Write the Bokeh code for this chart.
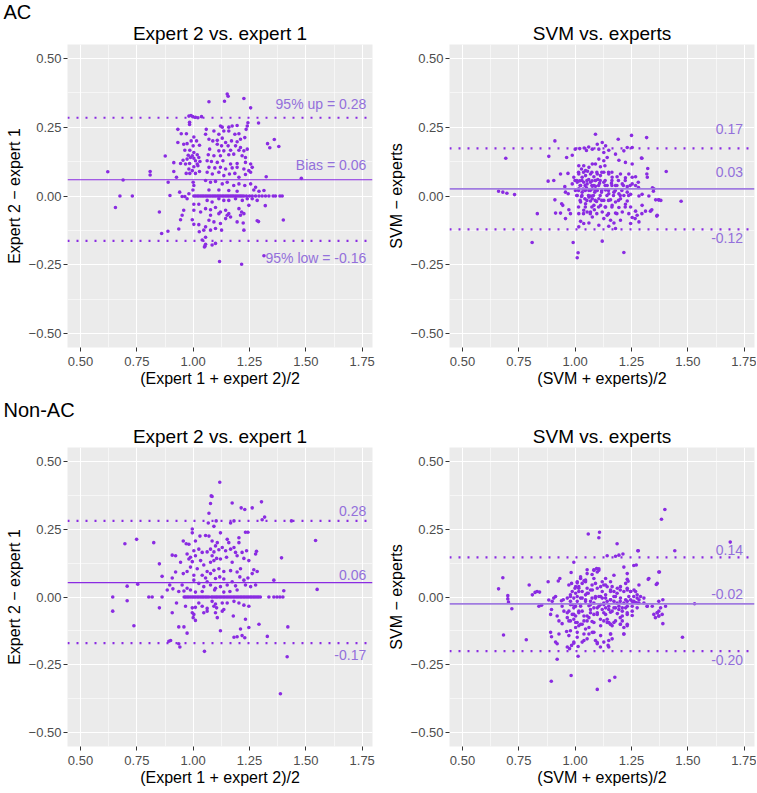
from bokeh.plotting import figure
from bokeh.models import (Span, Title, FixedTicker, CustomJSTickFormatter, Range1d,
                          ColumnDataSource)
from bokeh.layouts import column, row
from bokeh.core.properties import value
from bokeh.embed import file_html
from bokeh.resources import INLINE

# ---------------- data ----------------
group_labels = ["AC", "Non-AC"]
panel_titles = ["Expert 2 vs. expert 1", "SVM vs. experts"]
x_labels = ["(Expert 1 + expert 2)/2", "(SVM + experts)/2"]
y_labels = ["Expert 2 \u2212 expert 1", "SVM \u2212 experts"]
x_ticks = [0.50, 0.75, 1.00, 1.25, 1.50, 1.75]
y_ticks = [-0.50, -0.25, 0.00, 0.25, 0.50]

# (upper limit, bias, lower limit) per panel
ac_expert_lines = [0.284, 0.059, -0.163]
ac_svm_lines = [0.173, 0.026, -0.121]
nonac_expert_lines = [0.280, 0.053, -0.170]
nonac_svm_lines = [0.146, -0.025, -0.199]

ac_expert_texts = ["95% up = 0.28", "Bias = 0.06", "95% low = -0.16"]
ac_svm_texts = ["0.17", "0.03", "-0.12"]
nonac_expert_texts = ["0.28", "0.06", "-0.17"]
nonac_svm_texts = ["0.14", "-0.02", "-0.20"]

# (mean, difference) pairs
ac_expert_pts = [
    (0.621, 0.088), (0.655, -0.042), (0.689, 0.058), (0.675, 0.000), (0.730, 0.000),
    (0.809, 0.089), (0.809, 0.076), (0.850, -0.058), (0.860, -0.136), (0.876, 0.145),
    (0.888, -0.128), (0.889, 0.050), (0.897, 0.002), (0.914, 0.089), (0.914, 0.121),
    (0.926, 0.068), (0.932, 0.242), (0.932, 0.194), (0.936, -0.120), (0.940, 0.014),
    (0.944, 0.118), (0.944, -0.086), (0.947, 0.226), (0.951, -0.002), (0.951, -0.070),
    (0.955, 0.130), (0.958, 0.188), (0.958, -0.052), (0.963, 0.166), (0.963, -0.002),
    (0.966, 0.116), (0.969, 0.082), (0.970, 0.226), (0.973, 0.190), (0.973, 0.134),
    (0.973, -0.010), (0.978, 0.148), (0.981, 0.290), (0.981, 0.098), (0.981, 0.008),
    (0.984, 0.268), (0.984, 0.260), (0.984, 0.118), (0.985, 0.166), (0.985, 0.082),
    (0.988, 0.140), (0.990, 0.292), (0.991, 0.200), (0.996, 0.146), (0.996, 0.092),
    (0.996, -0.086), (0.998, 0.288), (0.999, 0.022), (1.000, 0.182), (1.000, 0.050),
    (1.003, 0.214), (1.003, 0.158), (1.003, 0.137), (1.003, 0.106), (1.003, 0.038),
    (1.003, 0.000), (1.003, -0.030), (1.003, -0.052), (1.003, -0.103), (1.010, 0.286),
    (1.010, 0.128), (1.010, 0.082), (1.015, 0.200), (1.018, 0.150), (1.018, 0.116),
    (1.018, 0.000), (1.021, 0.284), (1.021, 0.110), (1.025, 0.140), (1.025, -0.030),
    (1.025, -0.104), (1.027, -0.130), (1.028, 0.184), (1.028, 0.089), (1.030, 0.125),
    (1.033, 0.000), (1.033, -0.058), (1.037, 0.288), (1.040, -0.160), (1.047, -0.124),
    (1.052, -0.182), (1.055, -0.150), (1.055, -0.175), (1.050, -0.185),
    (1.151, 0.370), (1.155, 0.362), (1.139, 0.344), (1.225, 0.354), (1.070, 0.342), (1.255, 0.320),
    (1.243, 0.266), (1.240, 0.254), (1.235, 0.242),
    (1.121, 0.254), (1.129, 0.250), (1.158, 0.250), (1.173, 0.254), (1.195, 0.256),
    (1.092, 0.236), (1.114, 0.224), (1.136, 0.236), (1.158, 0.236), (1.185, 0.224),
    (1.203, 0.226), (1.058, 0.242), (1.055, 0.224),
    (1.070, 0.206), (1.087, 0.200), (1.107, 0.202), (1.129, 0.210), (1.144, 0.194),
    (1.170, 0.200), (1.195, 0.197), (1.210, 0.206), (1.229, 0.212),
    (1.107, 0.188), (1.126, 0.182), (1.155, 0.182), (1.188, 0.182), (1.210, 0.176),
    (1.073, 0.170), (1.114, 0.164), (1.136, 0.164), (1.166, 0.166), (1.203, 0.166),
    (1.225, 0.164), (1.240, 0.170),
    (1.067, 0.150), (1.092, 0.146), (1.121, 0.146), (1.158, 0.150), (1.180, 0.152),
    (1.217, 0.146), (1.232, 0.140),
    (1.062, 0.128), (1.081, 0.125), (1.107, 0.122), (1.132, 0.128), (1.166, 0.116),
    (1.195, 0.118), (1.232, 0.122), (1.255, 0.116),
    (1.070, 0.104), (1.096, 0.102), (1.121, 0.104), (1.144, 0.098), (1.173, 0.102),
    (1.195, 0.104), (1.225, 0.098), (1.247, 0.092), (1.262, 0.104),
    (1.062, 0.086), (1.085, 0.080), (1.114, 0.086), (1.136, 0.074), (1.161, 0.080),
    (1.185, 0.082), (1.203, 0.068), (1.232, 0.078), (1.255, 0.086), (1.324, 0.070),
    (1.055, 0.056), (1.077, 0.050), (1.099, 0.053), (1.129, 0.044), (1.151, 0.050),
    (1.180, 0.038), (1.203, 0.044), (1.229, 0.038), (1.255, 0.044), (1.277, 0.032),
    (1.070, 0.022), (1.114, 0.022), (1.158, 0.020), (1.195, 0.017), (1.269, 0.022),
    (1.292, 0.017), (1.314, 0.020),
    (1.010, 0.000), (1.025, 0.000), (1.040, 0.000), (1.047, 0.000), (1.055, 0.000),
    (1.062, 0.000), (1.070, 0.000), (1.077, 0.000), (1.085, 0.000), (1.092, 0.000),
    (1.099, 0.000), (1.107, 0.000), (1.114, 0.000), (1.121, 0.000), (1.129, 0.000),
    (1.136, 0.000), (1.144, 0.000), (1.151, 0.000), (1.158, 0.000), (1.166, 0.000),
    (1.173, 0.000), (1.180, 0.000), (1.188, 0.000), (1.195, 0.000), (1.203, 0.000),
    (1.210, 0.000), (1.217, 0.000), (1.225, 0.000), (1.236, 0.000), (1.250, 0.000),
    (1.262, 0.000), (1.277, 0.000), (1.292, 0.000), (1.306, 0.000), (1.321, 0.000),
    (1.336, 0.000), (1.355, 0.000), (1.365, 0.000), (1.385, 0.000), (1.395, 0.000),
    (1.062, -0.016), (1.084, -0.022), (1.114, -0.010), (1.136, -0.016), (1.158, -0.016),
    (1.188, -0.010), (1.218, -0.016), (1.240, -0.010), (1.262, -0.010), (1.284, -0.016),
    (1.055, -0.046), (1.077, -0.050), (1.099, -0.042), (1.121, -0.058), (1.144, -0.052),
    (1.158, -0.064), (1.203, -0.046), (1.215, -0.058), (1.247, -0.034),
    (1.077, -0.070), (1.114, -0.064), (1.151, -0.070), (1.166, -0.076), (1.210, -0.070),
    (1.225, -0.064),
    (1.070, -0.088), (1.092, -0.094), (1.121, -0.100), (1.144, -0.082), (1.195, -0.094),
    (1.222, -0.098), (1.284, -0.090),
    (1.055, -0.112), (1.077, -0.124), (1.099, -0.118), (1.126, -0.124), (1.225, -0.124),
    (1.084, -0.178), (1.099, -0.172), (1.117, -0.238), (1.215, -0.248),
    (1.290, 0.265), (1.330, 0.190), (1.340, 0.175), (1.360, 0.205), (1.380, 0.180),
    (1.314, -0.217), (1.320, -0.035), (1.290, -0.093), (1.400, -0.087), (1.480, 0.064),
]

ac_svm_pts = [
    (0.660, 0.017), (0.679, 0.014), (0.697, 0.010), (0.692, 0.137), (0.731, 0.005),
    (1.404, 0.089), (1.470, -0.019), (1.380, -0.016), (1.370, -0.014), (1.362, -0.073),
    (1.340, -0.050), (1.343, 0.030), (1.347, 0.017), (1.322, 0.100), (1.318, 0.080),
    (1.296, 0.137), (1.281, 0.031), (1.296, -0.064), (1.266, -0.082),
    (0.910, 0.200), (0.883, 0.144), (0.962, 0.140), (0.987, 0.148), (0.935, 0.080),
    (0.968, 0.082), (0.880, 0.054), (0.905, 0.056), (0.957, 0.014), (0.969, 0.008),
    (0.954, 0.034), (0.987, 0.044), (0.994, 0.068), (0.999, 0.056),
    (1.016, 0.110), (1.028, 0.098), (1.038, 0.110), (1.046, 0.092), (1.061, 0.104),
    (1.076, 0.116), (1.016, 0.080), (1.031, 0.068), (1.046, 0.074), (1.068, 0.080),
    (1.083, 0.070), (1.009, 0.050), (1.024, 0.038), (1.038, 0.050), (1.053, 0.044),
    (1.068, 0.050), (1.083, 0.038), (1.001, 0.020), (1.016, 0.026), (1.031, 0.014),
    (1.046, 0.022), (1.061, 0.020), (1.076, 0.026), (1.087, 0.014), (1.009, 0.002),
    (1.028, -0.002), (1.043, -0.010), (1.061, -0.004), (1.076, -0.010),
    (1.024, -0.022), (1.046, -0.028), (1.068, -0.018), (1.083, -0.034),
    (0.910, -0.014), (0.940, -0.028), (0.945, -0.034), (0.972, -0.050), (0.979, -0.064),
    (0.935, -0.062), (0.913, -0.062), (0.832, -0.064),
    (1.016, -0.064), (1.038, -0.052), (1.053, -0.058), (1.068, -0.058), (1.076, -0.076),
    (0.957, -0.082), (1.024, -0.092), (1.038, -0.100), (1.016, -0.112), (1.061, -0.098),
    (0.809, -0.169), (0.991, -0.169), (1.013, -0.206), (1.009, -0.224),
    (1.020, 0.172), (1.040, 0.174), (1.060, 0.178), (1.076, 0.170), (1.000, 0.170),
    (1.050, 0.165), (1.050, 0.030), (1.060, 0.060), (1.035, 0.025), (1.070, 0.000),
    (1.090, 0.035), (1.095, -0.020), (1.045, -0.040), (1.055, 0.090), (1.020, 0.055),
    (1.075, 0.055), (1.100, 0.060), (1.085, -0.050),
    (1.191, 0.206), (1.250, 0.220), (1.317, 0.212), (1.090, 0.224),
    (1.098, 0.188), (1.120, 0.194), (1.135, 0.182), (1.105, 0.170), (1.127, 0.158),
    (1.149, 0.166), (1.179, 0.152), (1.216, 0.164), (1.231, 0.176), (1.253, 0.176),
    (1.294, 0.138), (1.105, 0.134), (1.127, 0.128), (1.142, 0.140), (1.090, 0.116),
    (1.112, 0.106), (1.132, 0.110), (1.194, 0.130), (1.223, 0.122), (1.253, 0.116),
    (1.098, 0.080), (1.112, 0.074), (1.127, 0.086), (1.149, 0.080), (1.164, 0.068),
    (1.186, 0.070), (1.201, 0.080), (1.223, 0.066), (1.238, 0.080), (1.253, 0.068),
    (1.268, 0.070), (1.280, 0.050), (1.320, 0.068),
    (1.090, 0.056), (1.108, 0.046), (1.127, 0.050), (1.142, 0.038), (1.161, 0.046),
    (1.179, 0.038), (1.209, 0.044), (1.231, 0.034), (1.253, 0.044), (1.268, 0.038),
    (1.098, 0.020), (1.117, 0.014), (1.135, 0.022), (1.149, 0.008), (1.172, 0.014),
    (1.194, 0.008), (1.216, 0.002), (1.231, 0.014), (1.246, 0.006),
    (1.105, -0.010), (1.127, -0.016), (1.157, -0.014), (1.179, -0.022), (1.201, -0.010),
    (1.231, -0.018), (1.283, 0.000), (1.297, 0.006), (1.327, 0.000), (1.349, 0.026),
    (1.113, -0.034), (1.135, -0.040), (1.164, -0.034), (1.194, -0.042), (1.223, -0.030),
    (1.246, -0.040), (1.297, -0.034), (1.312, -0.055), (1.357, -0.014), (1.371, -0.014),
    (1.120, -0.058), (1.142, -0.070), (1.179, -0.062), (1.209, -0.058), (1.238, -0.064),
    (1.268, -0.055),
    (1.127, -0.082), (1.157, -0.088), (1.172, -0.098), (1.201, -0.088), (1.253, -0.078),
    (1.275, -0.070), (1.334, -0.055), (1.364, -0.070),
    (1.105, -0.106), (1.149, -0.110), (1.179, -0.118), (1.246, -0.100), (1.283, -0.094),
    (1.120, -0.164), (1.216, -0.205),
    (1.015, 0.086), (1.037, 0.086), (1.074, 0.086), (1.096, 0.086), (1.118, 0.086),
    (1.148, 0.086), (1.163, 0.086),
    (1.007, 0.056), (1.030, 0.056), (1.052, 0.056), (1.089, 0.056), (1.111, 0.056),
    (1.133, 0.056), (1.163, 0.056), (1.192, 0.056), (1.222, 0.056),
    (1.022, 0.038), (1.044, 0.038), (1.074, 0.038), (1.104, 0.038), (1.133, 0.038),
    (1.163, 0.038), (1.185, 0.038), (1.214, 0.038), (1.244, 0.038),
    (1.015, 0.020), (1.044, 0.020), (1.067, 0.020), (1.089, 0.020), (1.118, 0.020),
    (1.148, 0.020), (1.178, 0.020), (1.207, 0.020),
    (1.007, 0.002), (1.030, 0.002), (1.059, 0.002), (1.081, 0.002), (1.111, 0.002),
    (1.141, 0.002), (1.170, 0.002), (1.200, 0.002), (1.237, 0.002),
    (1.022, -0.016), (1.052, -0.016), (1.089, -0.016), (1.118, -0.016), (1.148, -0.016),
    (1.192, -0.016),
    (1.015, -0.040), (1.074, -0.040), (1.104, -0.040), (1.133, -0.040), (1.163, -0.040),
    (1.222, -0.040),
    (1.037, -0.064), (1.067, -0.064), (1.096, -0.064), (1.148, -0.064), (1.185, -0.064),
]

nonac_expert_pts = [
    (0.643, 0.000), (0.643, -0.052), (0.697, 0.196), (0.707, 0.040), (0.707, -0.014),
    (0.737, -0.106), (0.749, 0.212), (0.754, 0.047), (1.387, -0.356), (1.417, -0.220),
    (1.420, -0.110), (1.402, 0.023), (1.392, 0.144), (1.436, 0.280), (1.543, 0.208),
    (1.550, 0.028),
    (1.080, 0.372), (1.077, 0.344), (1.070, 0.308), (1.067, 0.272),
    (0.996, 0.250), (0.996, 0.236), (0.825, 0.200),
    (0.956, 0.206), (0.969, 0.196), (0.981, 0.194), (1.010, 0.206), (1.030, 0.224),
    (1.055, 0.226), (1.070, 0.224),
    (1.003, 0.170), (1.025, 0.176), (1.040, 0.164), (1.062, 0.166), (0.973, 0.158),
    (0.988, 0.146), (1.010, 0.152), (0.907, 0.154), (0.922, 0.152),
    (0.944, 0.128), (0.981, 0.140), (0.996, 0.130), (1.033, 0.134), (1.047, 0.118),
    (1.018, 0.104), (1.062, 0.094), (0.988, 0.110), (0.973, 0.094), (0.850, 0.122),
    (0.922, 0.092), (0.956, 0.086), (1.003, 0.080), (1.040, 0.080), (1.055, 0.070),
    (0.862, 0.076), (0.907, 0.070),
    (0.896, 0.044), (0.885, 0.026), (0.910, 0.030), (0.951, 0.044), (0.973, 0.032),
    (1.003, 0.062), (1.025, 0.050), (1.062, 0.056), (1.047, 0.038),
    (0.936, 0.020), (0.959, 0.022), (0.988, 0.026), (1.010, 0.018), (1.040, 0.020),
    (0.803, 0.000), (0.818, 0.000), (0.862, 0.000), (0.960, 0.000), (0.966, 0.000),
    (0.973, 0.000), (0.980, 0.000), (0.988, 0.000), (0.996, 0.000), (1.003, 0.000),
    (1.010, 0.000), (1.018, 0.000), (1.025, 0.000), (1.033, 0.000), (1.040, 0.000),
    (1.047, 0.000), (1.055, 0.000), (1.062, 0.000), (1.070, 0.000),
    (0.926, -0.022), (0.966, -0.034), (0.996, -0.040), (1.010, -0.038), (1.025, -0.022),
    (1.040, -0.034), (1.062, -0.042), (0.850, -0.040), (0.907, -0.058),
    (0.996, -0.058), (1.003, -0.064), (1.000, -0.076), (1.010, -0.086), (1.047, -0.058),
    (1.062, -0.052), (0.936, -0.110), (0.959, -0.110), (0.973, -0.133),
    (0.892, -0.163), (0.900, -0.160), (0.936, -0.172), (0.941, -0.184), (1.050, -0.200),
    (1.118, 0.422), (1.084, 0.370), (1.173, 0.346), (1.213, 0.328), (1.229, 0.322),
    (1.262, 0.328), (1.303, 0.350), (1.317, 0.294), (1.306, 0.284),
    (1.166, 0.272), (1.181, 0.280), (1.102, 0.280), (1.092, 0.260),
    (1.121, 0.236), (1.232, 0.238), (1.243, 0.238),
    (1.084, 0.206), (1.107, 0.200), (1.099, 0.188), (1.151, 0.212), (1.158, 0.200),
    (1.181, 0.182), (1.203, 0.218), (1.203, 0.200), (1.217, 0.164), (1.237, 0.170),
    (1.277, 0.158), (1.281, 0.168),
    (1.077, 0.176), (1.092, 0.166), (1.114, 0.174), (1.129, 0.182), (1.144, 0.170),
    (1.166, 0.176), (1.188, 0.164),
    (1.084, 0.152), (1.104, 0.142), (1.092, 0.134), (1.077, 0.128), (1.121, 0.140),
    (1.148, 0.146), (1.173, 0.128), (1.195, 0.152), (1.225, 0.142), (1.247, 0.134),
    (1.092, 0.098), (1.114, 0.104), (1.136, 0.094), (1.166, 0.097), (1.195, 0.092),
    (1.210, 0.104), (1.269, 0.100), (1.284, 0.094),
    (1.077, 0.086), (1.099, 0.068), (1.118, 0.074), (1.136, 0.066), (1.207, 0.074),
    (1.225, 0.062), (1.243, 0.070), (1.262, 0.086), (1.358, 0.062),
    (1.077, 0.044), (1.099, 0.032), (1.121, 0.038), (1.151, 0.044), (1.173, 0.056),
    (1.188, 0.041), (1.195, 0.026), (1.232, 0.044), (1.255, 0.038), (1.277, 0.044),
    (1.095, 0.026), (1.136, 0.018), (1.163, 0.020),
    (1.081, 0.000), (1.088, 0.000), (1.096, 0.000), (1.103, 0.000), (1.110, 0.000),
    (1.118, 0.000), (1.125, 0.000), (1.133, 0.000), (1.140, 0.000), (1.148, 0.000),
    (1.155, 0.000), (1.163, 0.000), (1.170, 0.000), (1.178, 0.000), (1.185, 0.000),
    (1.193, 0.000), (1.200, 0.000), (1.208, 0.000), (1.215, 0.000), (1.223, 0.000),
    (1.230, 0.000), (1.238, 0.000), (1.245, 0.000), (1.253, 0.000), (1.260, 0.000),
    (1.268, 0.000), (1.275, 0.000), (1.283, 0.000), (1.290, 0.000), (1.298, 0.000),
    (1.336, 0.000), (1.358, 0.000), (1.372, 0.000), (1.385, 0.000), (1.398, 0.000),
    (1.084, -0.016), (1.099, -0.026), (1.092, -0.034), (1.104, -0.040), (1.129, -0.022),
    (1.151, -0.022), (1.181, -0.016), (1.203, -0.022), (1.225, -0.030), (1.247, -0.034),
    (1.099, -0.058), (1.107, -0.076), (1.129, -0.052), (1.136, -0.046), (1.178, -0.070),
    (1.232, -0.082),
    (1.210, -0.118), (1.247, -0.112), (1.292, -0.100), (1.121, -0.124),
    (1.181, -0.148), (1.195, -0.146), (1.217, -0.142), (1.229, -0.150), (1.329, -0.145),
]

nonac_svm_pts = [
    (0.660, 0.030), (0.679, 0.071), (0.682, -0.140), (0.701, 0.005), (0.701, -0.007),
    (0.704, -0.019), (0.719, -0.043), (0.783, -0.157), (0.796, 0.044), (0.810, 0.008),
    (0.822, 0.017), (1.476, -0.148), (1.530, -0.025), (1.688, 0.202),
    (1.058, 0.232), (1.108, 0.238), (1.105, 0.218), (0.994, 0.128), (0.982, 0.090),
    (0.880, 0.056), (0.925, 0.059), (0.932, 0.068), (0.831, 0.020), (0.842, 0.018),
    (0.851, -0.030), (0.839, -0.034),
    (0.883, -0.011), (0.898, -0.016), (0.905, -0.004), (0.913, 0.002), (0.939, -0.014),
    (0.942, -0.034), (0.895, -0.046), (0.891, -0.064), (0.920, -0.070), (0.928, -0.088),
    (0.950, -0.052), (0.965, -0.076), (0.942, -0.098),
    (0.891, -0.130), (0.895, -0.146), (0.913, -0.166), (0.928, -0.136), (0.920, -0.172),
    (0.920, -0.229), (0.962, -0.127), (0.972, -0.142), (0.965, -0.184), (0.975, -0.190),
    (0.984, -0.178), (0.994, -0.170), (1.009, -0.148), (1.013, -0.182), (1.031, -0.166),
    (1.002, -0.112), (1.016, -0.106), (1.031, -0.100), (1.046, -0.118), (1.061, -0.112),
    (1.061, -0.136), (1.083, -0.130), (1.053, -0.154), (1.090, -0.160), (1.098, -0.172),
    (1.112, -0.184), (1.013, -0.218),
    (0.894, -0.310), (0.982, -0.289), (1.098, -0.340),
    (0.972, 0.044), (0.984, 0.050), (0.999, 0.032), (1.009, 0.056), (1.016, 0.038),
    (1.031, 0.050), (1.024, 0.068), (1.046, 0.056), (1.053, 0.032), (1.068, 0.026),
    (1.075, 0.044), (1.090, 0.050), (1.083, 0.098), (1.098, 0.092), (1.105, 0.104),
    (1.120, 0.020), (1.120, 0.056), (1.053, 0.086), (1.075, 0.083),
    (0.979, 0.008), (0.994, -0.004), (1.009, 0.002), (1.016, 0.020), (1.031, -0.004),
    (1.046, 0.008), (1.058, 0.014), (1.075, -0.004), (1.090, 0.002), (1.105, 0.002),
    (1.120, -0.004),
    (0.979, -0.016), (0.987, -0.028), (0.994, -0.040), (0.999, -0.034), (1.009, -0.016),
    (1.024, -0.028), (1.046, -0.016), (1.068, -0.028), (1.083, -0.022), (1.098, -0.040),
    (1.112, -0.028), (1.127, -0.022),
    (0.972, -0.052), (0.987, -0.064), (1.002, -0.070), (1.016, -0.058), (1.031, -0.052),
    (1.053, -0.070), (1.068, -0.046), (1.083, -0.064), (1.098, -0.058), (1.120, -0.046),
    (0.979, -0.088), (0.994, -0.082), (1.009, -0.094), (1.039, -0.088), (1.061, -0.076),
    (1.075, -0.090), (1.112, -0.082), (1.127, -0.088),
    (1.398, 0.322), (1.383, 0.286), (1.186, 0.196), (1.280, 0.170), (1.442, 0.170),
    (1.194, 0.154), (1.212, 0.158), (1.142, 0.152), (1.179, 0.150), (1.260, 0.116),
    (1.271, 0.118), (1.216, 0.110), (1.231, 0.086), (1.374, 0.092), (1.172, 0.080),
    (1.157, 0.056), (1.324, 0.065), (1.360, 0.046), (1.231, 0.065), (1.235, 0.058),
    (1.283, 0.044), (1.268, 0.020),
    (1.135, 0.068), (1.135, 0.044), (1.164, 0.038), (1.135, 0.008), (1.157, 0.020),
    (1.172, 0.002), (1.186, 0.014), (1.200, 0.026), (1.216, 0.020), (1.231, 0.032),
    (1.246, 0.020), (1.260, 0.002), (1.275, -0.004), (1.283, -0.010),
    (1.142, -0.016), (1.157, -0.010), (1.172, -0.016), (1.186, -0.022), (1.200, -0.016),
    (1.216, -0.022), (1.231, -0.016), (1.246, -0.010), (1.260, -0.016), (1.283, -0.022),
    (1.305, -0.022), (1.320, -0.034), (1.342, -0.034), (1.371, -0.016), (1.389, -0.010),
    (1.401, -0.034),
    (1.135, -0.040), (1.149, -0.046), (1.164, -0.052), (1.179, -0.040), (1.194, -0.046),
    (1.209, -0.052), (1.231, -0.064), (1.224, -0.040), (1.253, -0.052), (1.275, -0.040),
    (1.135, -0.064), (1.142, -0.082), (1.149, -0.094), (1.157, -0.100), (1.164, -0.106),
    (1.172, -0.094), (1.200, -0.076), (1.209, -0.088), (1.200, -0.100), (1.216, -0.112),
    (1.231, -0.100),
    (1.356, -0.076), (1.371, -0.070), (1.364, -0.058), (1.386, -0.064), (1.389, -0.098),
    (1.371, -0.052),
    (1.157, -0.136), (1.149, -0.160), (1.146, -0.178), (1.149, -0.184), (1.164, -0.154),
    (1.216, -0.136), (1.152, -0.308), (1.176, -0.295),
    (1.053, 0.100), (1.083, 0.100), (1.095, 0.105), (1.105, 0.098), (1.024, 0.074),
    (1.083, 0.068), (1.046, 0.062), (1.009, 0.052), (1.039, 0.060), (1.002, 0.038),
    (1.016, 0.032), (0.987, 0.020), (1.002, 0.014), (0.979, 0.002), (0.965, -0.004),
    (0.947, -0.010),
    (1.031, 0.020), (1.053, 0.014), (1.076, 0.026), (1.098, 0.032), (1.113, 0.038),
    (1.127, 0.044), (1.142, 0.038), (1.157, 0.026), (1.172, 0.020), (1.187, 0.032),
    (1.201, 0.038), (1.224, 0.050), (1.231, 0.026), (1.246, 0.020), (1.261, 0.026),
    (1.275, 0.008), (1.290, 0.002), (1.305, -0.004),
    (1.024, -0.004), (1.046, -0.010), (1.068, -0.016), (1.090, -0.004), (1.113, 0.002),
    (1.135, -0.004), (1.157, -0.010), (1.179, 0.002), (1.201, -0.004), (1.224, -0.010),
    (1.238, 0.002), (1.253, -0.016), (1.268, -0.020),
    (0.979, -0.028), (1.002, -0.034), (1.024, -0.034), (1.061, -0.032), (1.083, -0.040),
    (1.105, -0.034), (1.127, -0.028), (1.149, -0.034), (1.172, -0.040), (1.194, -0.034),
    (1.209, -0.040), (1.231, -0.034), (1.253, -0.034), (1.275, -0.022), (1.319, -0.034),
    (0.965, -0.058), (0.994, -0.064), (1.016, -0.052), (1.039, -0.070), (1.068, -0.058),
    (1.098, -0.064), (1.127, -0.058), (1.157, -0.056), (1.187, -0.061), (1.209, -0.070),
    (1.231, -0.058), (1.253, -0.068),
    (0.972, -0.088), (1.002, -0.094), (1.024, -0.100), (1.053, -0.088), (1.083, -0.094),
    (1.113, -0.106), (1.142, -0.094), (1.157, -0.100), (1.179, -0.088), (1.201, -0.100),
    (1.231, -0.106),
    (0.979, -0.124), (1.009, -0.130), (1.039, -0.136), (1.076, -0.130), (1.113, -0.142),
    (1.157, -0.136), (1.216, -0.136),
    (0.994, -0.166), (1.039, -0.160), (1.098, -0.168), (1.127, -0.166),
    (1.349, -0.064), (1.364, -0.058), (1.371, -0.070), (1.379, -0.040), (1.371, 0.092),
    (1.327, 0.068), (1.364, 0.050), (1.278, 0.170),
]

# ---------------- style ----------------
FONT = "Liberation Sans"
POINT = "#8A2BE2"
TEXTC = "#9370DB"
X0, X1 = 0.4423, 1.7957
Y0, Y1 = -0.55, 0.55

fmt = CustomJSTickFormatter(code="return (tick < 0 ? '\\u2212' : '') + Math.abs(tick).toFixed(2);")


def panel(pts, lines, texts, offsets, col, rowi):
    left = (col == 0)
    top = (rowi == 0)
    p = figure(width=378, height=393 if top else 398,
               x_range=Range1d(X0, X1), y_range=Range1d(Y0, Y1),
               output_backend="svg", toolbar_location=None, title=None,
               min_border_left=67 if left else 71,
               min_border_right=6 if left else 2,
               min_border_top=44 if top else 54,
               min_border_bottom=46 if top else 45)
    p.background_fill_color = "#EBEBEB"
    p.border_fill_color = "white"
    p.outline_line_color = None

    # panel title (closest to the frame), then the group label above it
    p.add_layout(Title(text=panel_titles[col], align="center", text_font=FONT,
                       text_font_size="19px", text_font_style="normal",
                       text_color="black", standoff=2), "above")
    p.add_layout(Title(text=group_labels[rowi], align="left", offset=-64,
                       text_font=FONT, text_font_size="20px", text_font_style="normal",
                       text_color="black", text_alpha=1.0 if left else 0.0,
                       standoff=-6 if top else 4), "above")

    p.xaxis.ticker = FixedTicker(ticks=x_ticks, minor_ticks=[0.625, 0.875, 1.125, 1.375, 1.625])
    p.yaxis.ticker = FixedTicker(ticks=y_ticks, minor_ticks=[-0.375, -0.125, 0.125, 0.375])
    p.xaxis.axis_label = x_labels[col]
    p.yaxis.axis_label = y_labels[col]
    for ax in (p.xaxis[0], p.yaxis[0]):
        ax.formatter = fmt
        ax.axis_line_color = None
        ax.major_tick_out = 4
        ax.major_tick_in = 0
        ax.major_tick_line_color = "#333333"
        ax.minor_tick_line_color = None
        ax.major_label_text_font = FONT
        ax.major_label_text_font_size = "13px"
        ax.major_label_text_color = "#4D4D4D"
        ax.axis_label_text_font = FONT
        ax.axis_label_text_font_size = "16px"
        ax.axis_label_text_font_style = "normal"
        ax.axis_label_text_color = "black"
    p.xaxis.major_label_standoff = 5
    p.xaxis.axis_label_standoff = 1
    p.yaxis.major_label_standoff = 2
    p.yaxis.axis_label_standoff = 3
    for g in (p.xgrid[0], p.ygrid[0]):
        g.grid_line_color = "white"
        g.grid_line_width = 1.1
        g.minor_grid_line_color = "white"
        g.minor_grid_line_width = 0.55

    xs = [a for a, b in pts]
    ys = [b for a, b in pts]
    p.scatter(xs, ys, size=3.6, fill_color=POINT, line_color=None)

    solid_color = POINT if left else "#A07BE0"
    solid_width = 1.2 if left else 1.8
    p.add_layout(Span(location=lines[0], dimension="width", line_color=POINT,
                      line_width=2.2, line_dash="2 7"))
    p.add_layout(Span(location=lines[1], dimension="width", line_color=solid_color,
                      line_width=solid_width))
    p.add_layout(Span(location=lines[2], dimension="width", line_color=POINT,
                      line_width=2.2, line_dash="2 7"))

    tx = 1.768 if left else 1.745
    src = ColumnDataSource(dict(x=[tx] * 3, y=[v + o for v, o in zip(lines, offsets)], t=texts))
    p.text(x="x", y="y", text="t", source=src, text_font=value(FONT),
           text_font_size=value("14px"), text_align="right", text_baseline="middle",
           text_color=TEXTC)
    return p


p1 = panel(ac_expert_pts, ac_expert_lines, ac_expert_texts, [0.050, 0.053, -0.063], 0, 0)
p2 = panel(ac_svm_pts, ac_svm_lines, ac_svm_texts, [0.071, 0.060, -0.031], 1, 0)
p3 = panel(nonac_expert_pts, nonac_expert_lines, nonac_expert_texts, [0.036, 0.027, -0.042], 0, 1)
p4 = panel(nonac_svm_pts, nonac_svm_lines, nonac_svm_texts, [0.027, 0.035, -0.031], 1, 1)

layout = column(row(p1, p2, spacing=0), row(p3, p4, spacing=0), spacing=0)

open("out.html", "w").write(file_html(layout, INLINE))
